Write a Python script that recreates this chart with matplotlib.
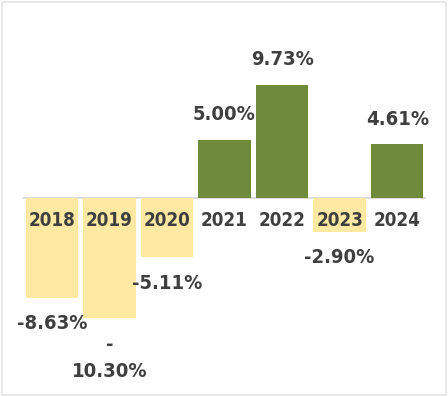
import matplotlib
matplotlib.use("Agg")
import matplotlib.pyplot as plt
from matplotlib.patches import Rectangle

years = ["2018", "2019", "2020", "2021", "2022", "2023", "2024"]
returns = [-8.63, -10.30, -5.11, 5.00, 9.73, -2.90, 4.61]
value_labels = ["-8.63%", "-\n10.30%", "-5.11%", "5.00%", "9.73%", "-2.90%", "4.61%"]

GREEN = "#6f8a3a"
YELLOW = "#fde9a2"
TEXT = "#3f3f3f"

fig = plt.figure(figsize=(4.48, 3.97), dpi=100)
ax = fig.add_axes([23 / 448, 0, 403 / 448, 1])

colors = [GREEN if v >= 0 else YELLOW for v in returns]
x = range(len(years))
ax.bar(x, returns, width=0.91, color=colors, zorder=2)
ax.axhline(0, color="#d6d6d6", lw=1.2, zorder=1)

font = dict(family="DejaVu Sans", stretch="condensed", weight="bold", color=TEXT)

for i, (yr, v, lab) in enumerate(zip(years, returns, value_labels)):
    ax.text(i, -1.9, yr, ha="center", va="center", fontsize=13.5, zorder=3, **font)
    if v >= 0:
        dy = 18
    elif "\n" in lab:
        dy = -29
    else:
        dy = -18.5
    ax.annotate(lab, (i, v), xytext=(0, dy), textcoords="offset points",
                ha="center", va="center", fontsize=14.5, linespacing=1.55, **font)

ax.set_xlim(-0.5, 6.5)
ax.set_ylim(-17.13, 17.04)
ax.axis("off")

# faint frame around the picture
fig.patches.append(Rectangle((2 / 448, 2 / 397), 444 / 448, 393 / 397,
                             transform=fig.transFigure, fill=False,
                             edgecolor="#e4e4e4", lw=1.2))

fig.savefig("out.png", dpi=100)
